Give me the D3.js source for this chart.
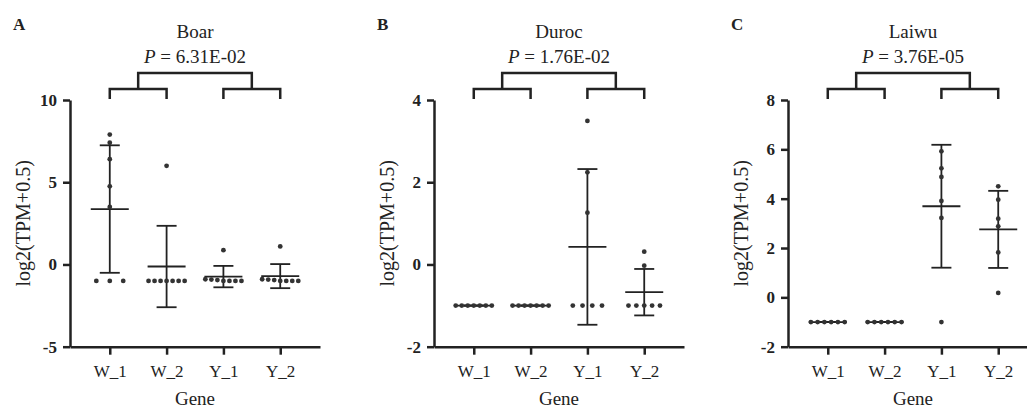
<!DOCTYPE html>
<html>
<head>
<meta charset="utf-8">
<script src="https://cdn.jsdelivr.net/npm/d3@7"></script>
<style>
  body { margin: 0; background: #fff; }
  svg { display: block; font-family: "Liberation Serif", "Times New Roman", serif; }
  .axis path, .axis line { stroke: #222; stroke-width: 2.5; }
  .axis text { fill: #222; font-family: "Liberation Serif", "Times New Roman", serif; }
</style>
</head>
<body>
<div id="chart"></div>
<script>
// Chart data
var categories = ["W_1", "W_2", "Y_1", "Y_2"];
var panelLetters = ["A", "B", "C"];
var breedNames = ["Boar", "Duroc", "Laiwu"];
var pValues = ["6.31E-02", "1.76E-02", "3.76E-05"];

var boarTicks = [-5, 0, 5, 10];
var durocTicks = [-2, 0, 2, 4];
var laiwuTicks = [-2, 0, 2, 4, 6, 8];

// log2(TPM+0.5) per sample, one list per gene group
var boarValues = [
  [7.9, 7.4, 6.4, 4.75, 3.5, -1, -1, -1],
  [6.0, -1, -1, -1, -1, -1, -1, -1],
  [0.87, -1, -0.92, -1, -0.9, -1, -0.95, -1],
  [1.1, -1, -0.92, -1, -0.9, -1, -0.95, -1]
];
var durocValues = [
  [-1, -1, -1, -1, -1, -1, -1],
  [-1, -1, -1, -1, -1, -1, -1],
  [3.49, 2.24, 1.26, -1, -1, -1, -1],
  [0.31, -0.03, -1, -1, -1, -1, -1]
];
var laiwuValues = [
  [-1, -1, -1, -1, -1, -1],
  [-1, -1, -1, -1, -1, -1],
  [5.92, 5.23, 4.88, 3.91, 3.22, -1],
  [4.5, 3.96, 3.19, 2.88, 1.82, 0.18]
];

// Define SVG area dimensions
var svgWidth = 1027;
var svgHeight = 409;

// Layout of the three panels
var panelLeft = [70, 434, 788];
var plotWidth = 250;
var plotTop = 100;
var plotBottom = 346.7;
var ink = "#222";

var svg = d3.select("#chart")
  .append("svg")
  .attr("width", svgWidth)
  .attr("height", svgHeight);

var panels = [
  { values: boarValues, ticks: boarTicks },
  { values: durocValues, ticks: durocTicks },
  { values: laiwuValues, ticks: laiwuTicks }
];

panels.forEach(function(p, i) {
  drawPanel(p, i);
});

function drawPanel(p, i) {
  var left = panelLeft[i];
  var g = svg.append("g");

  var xScale = d3.scalePoint()
    .domain(categories)
    .range([left, left + plotWidth])
    .padding(0.7);

  var yScale = d3.scaleLinear()
    .domain(d3.extent(p.ticks))
    .range([plotBottom, plotTop]);

  // error bars (mean +/- SD) first, dots on top
  p.values.forEach(function(vals, j) {
    var cx = xScale(categories[j]);
    var m = d3.mean(vals);
    var sd = d3.deviation(vals);
    var bars = g.append("g")
      .attr("stroke", ink)
      .attr("stroke-width", 1.8);
    bars.append("line")
      .attr("x1", cx).attr("x2", cx)
      .attr("y1", yScale(m + sd)).attr("y2", yScale(m - sd));
    [m + sd, m - sd].forEach(function(v) {
      bars.append("line")
        .attr("x1", cx - 10).attr("x2", cx + 10)
        .attr("y1", yScale(v)).attr("y2", yScale(v));
    });
    bars.append("line")
      .attr("x1", cx - 19).attr("x2", cx + 19)
      .attr("y1", yScale(m)).attr("y2", yScale(m));

    // spread points that sit on top of each other
    var sorted = vals.slice().sort(d3.descending);
    var clusters = [];
    sorted.forEach(function(v) {
      var last = clusters[clusters.length - 1];
      if (last && Math.abs(yScale(v) - yScale(last[0])) < 3) last.push(v);
      else clusters.push([v]);
    });
    var pts = [];
    clusters.forEach(function(c) {
      var n = c.length;
      var step = n > 1 ? (20 + 2.3 * n) / (n - 1) : 0;
      c.forEach(function(v, k) {
        pts.push({ x: cx + (k - (n - 1) / 2) * step, y: yScale(v) });
      });
    });
    g.selectAll(null)
      .data(pts)
      .enter()
      .append("circle")
      .attr("cx", d => d.x)
      .attr("cy", d => d.y)
      .attr("r", 2.4)
      .attr("fill", "#333");
  });

  // axes
  var leftAxis = d3.axisLeft(yScale)
    .tickValues(p.ticks)
    .tickFormat(d => String(d))
    .tickSize(7)
    .tickSizeOuter(0)
    .tickPadding(6);
  g.append("g")
    .attr("class", "axis")
    .attr("transform", `translate(${left}, 0)`)
    .call(leftAxis)
    .attr("font-family", null)
    .selectAll("text")
    .style("font-size", "17px")
    .style("font-weight", "bold");

  var bottomAxis = d3.axisBottom(xScale)
    .tickSize(8)
    .tickSizeOuter(0)
    .tickPadding(10);
  g.append("g")
    .attr("class", "axis")
    .attr("transform", `translate(0, ${plotBottom})`)
    .call(bottomAxis)
    .attr("font-family", null)
    .selectAll("text")
    .style("font-size", "17px");

  // axis titles
  g.append("text")
    .attr("transform", `translate(${left - 47}, ${(plotTop + plotBottom) / 2}) rotate(-90)`)
    .attr("text-anchor", "middle")
    .attr("dy", "0.35em")
    .attr("fill", ink)
    .style("font-size", "20px")
    .text("log2(TPM+0.5)");

  g.append("text")
    .attr("x", left + plotWidth / 2)
    .attr("y", 405)
    .attr("text-anchor", "middle")
    .attr("fill", ink)
    .style("font-size", "19px")
    .text("Gene");

  // panel letter, breed name and P value
  g.append("text")
    .attr("x", left - 57)
    .attr("y", 29.5)
    .attr("fill", ink)
    .style("font-size", "17px")
    .style("font-weight", "bold")
    .text(panelLetters[i]);

  var mid = (xScale(categories[0]) + xScale(categories[3])) / 2;
  g.append("text")
    .attr("x", mid)
    .attr("y", 37.5)
    .attr("text-anchor", "middle")
    .attr("fill", ink)
    .style("font-size", "19px")
    .text(breedNames[i]);

  var pText = g.append("text")
    .attr("x", mid)
    .attr("y", 62.5)
    .attr("text-anchor", "middle")
    .attr("fill", ink)
    .style("font-size", "19px");
  pText.append("tspan").style("font-style", "italic").text("P");
  pText.append("tspan").text(" = " + pValues[i]);

  // comparison brackets
  var br = g.append("g")
    .attr("fill", "none")
    .attr("stroke", ink)
    .attr("stroke-width", 2.5);
  var pairs = [[0, 1], [2, 3]];
  var mids = pairs.map(function(pr) {
    var a = xScale(categories[pr[0]]);
    var b = xScale(categories[pr[1]]);
    br.append("path").attr("d", `M${a},99V89H${b}V99`);
    return (a + b) / 2;
  });
  br.append("path").attr("d", `M${mids[0]},89V73H${mids[1]}V89`);
}
</script>
</body>
</html>
